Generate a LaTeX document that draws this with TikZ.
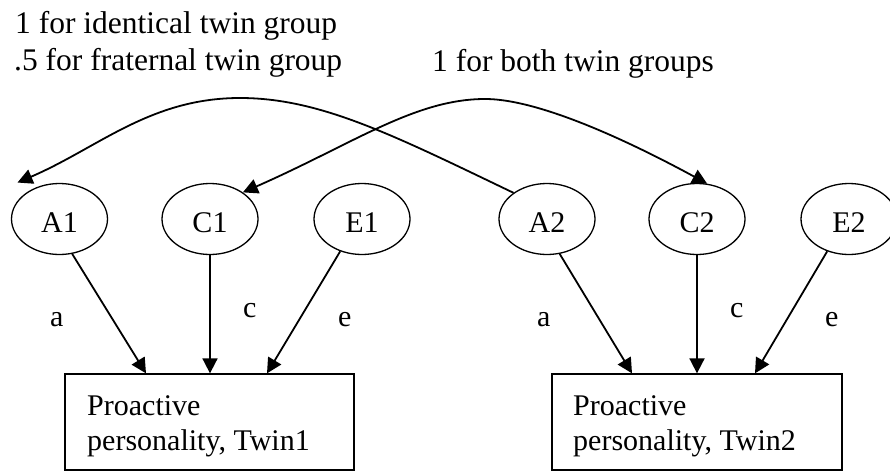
\documentclass[tikz,border=0pt]{standalone}
\usepackage{fontspec}
\setmainfont{Liberation Serif}
\usetikzlibrary{arrows.meta,shapes.geometric}
\tikzset{
  latent/.style={draw, ellipse, line width=1.3pt, minimum width=96pt, minimum height=71pt,
    inner sep=0pt, font=\fontsize{30}{35}\selectfont, text height=26pt, text depth=0pt},
  obsbox/.style={draw, line width=1.3pt, minimum width=289pt, minimum height=96pt, inner sep=0pt},
  txt/.style={inner sep=0pt, anchor=base west, font=\fontsize{30}{35}\selectfont},
  toptxt/.style={inner sep=0pt, anchor=base west, font=\fontsize{31.5}{37}\selectfont},
  conn/.style={line width=1.8pt, -{Triangle[length=15pt,width=15pt]}},
  bothconn/.style={line width=1.8pt, {Triangle[length=15pt,width=15pt]}-{Triangle[length=15pt,width=15pt]}},
}
\begin{document}
\begin{tikzpicture}[x=1pt,y=-1pt]
\useasboundingbox (0,0) rectangle (890,471);
% top texts
\node[toptxt] (t1) at (15,33) {1 for identical twin group};
\node[toptxt] (t2) at (14,70) {.5 for fraternal twin group};
\node[toptxt] (t3) at (432,71) {1 for both twin groups};
% latent variables
\node[latent] (A1) at (59.5,219) {A1};
\node[latent] (C1) at (210,219) {C1};
\node[latent] (E1) at (362,219) {E1};
\node[latent] (A2) at (547,219) {A2};
\node[latent] (C2) at (697,219) {C2};
\node[latent] (E2) at (849,219) {E2};
% observed boxes
\node[obsbox] (B1) at (209.5,422) {};
\node[obsbox, minimum width=290pt] (B2) at (697,422) {};
\node[txt] (p1a) at (87,415) {Proactive};
\node[txt] (p1b) at (87,450) {personality, Twin1};
\node[txt] (p2a) at (573,415) {Proactive};
\node[txt] (p2b) at (573,450) {personality, Twin2};
% paths
\draw[conn] (A1.-70) -- ([xshift=-63.5pt]B1.north);
\draw[conn] (C1.south) -- ([xshift=0.5pt]B1.north);
\draw[conn] (E1.-124) -- ([xshift=57.5pt]B1.north);
\draw[conn] (A2.-70) -- ([xshift=-65pt]B2.north);
\draw[conn] (C2.south) -- (B2.north);
\draw[conn] (E2.-124) -- ([xshift=58pt]B2.north);
% path labels
\node[txt] (la1) at (50,326) {a};
\node[txt] (lc1) at (243,317) {c};
\node[txt] (le1) at (338,326) {e};
\node[txt] (la2) at (537,326) {a};
\node[txt] (lc2) at (730,317) {c};
\node[txt] (le2) at (825,326) {e};
% correlations
\draw[conn] (A2.142.6) .. controls (393,135) and (320,98) .. (240,98)
  .. controls (150,98) and (98,148) .. ([shift={(-7.6pt,10.9pt)}]A1.north west);
\draw[bothconn] (C1.39) .. controls (353,144) and (415,99) .. (485,99)
  .. controls (545,99) and (647,151) .. (C2.74);
\end{tikzpicture}
\end{document}
